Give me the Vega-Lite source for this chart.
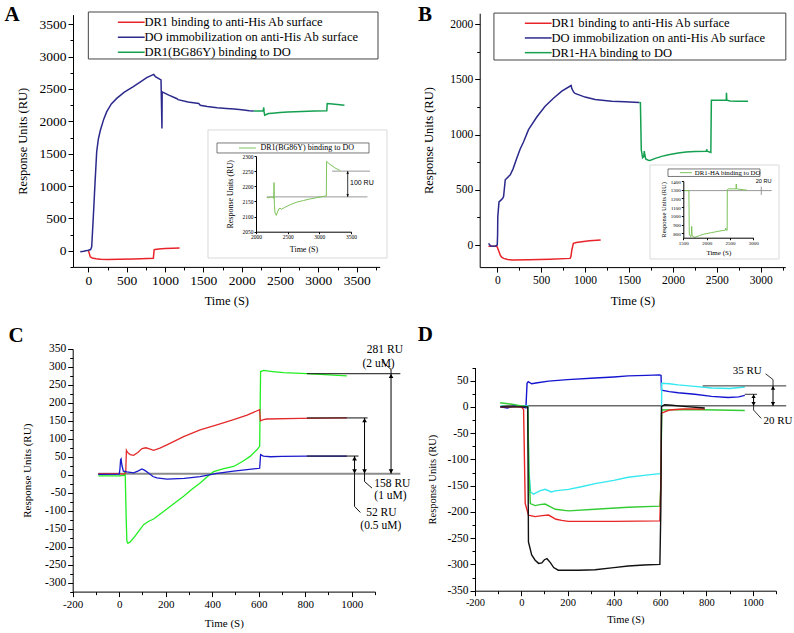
{
"$schema":"https://vega.github.io/schema/vega-lite/v6.json",
"width":794,"height":633,
"autosize":{"type":"fit","contains":"padding"},
"padding":0,
"background":"white",
"config":{
 "view":{"stroke":null},
 "axis":{"grid":false,"labelFont":"Liberation Serif","titleFont":"Liberation Serif","domainColor":"#000","tickColor":"#000","labelColor":"#000","titleColor":"#000","titleFontWeight":"normal","labelFlush":false,"labelOverlap":false,"domainWidth":1,"tickWidth":1},
 "legend":{"labelFont":"Liberation Serif","labelColor":"#000"},
 "text":{"font":"Liberation Serif","color":"#000"}
},
"datasets":{
 "A":[
  {"series":"DR1 binding to anti-His Ab surface","t":0,"v":5},{"series":"DR1 binding to anti-His Ab surface","t":10,"v":-30},{"series":"DR1 binding to anti-His Ab surface","t":25,"v":-95},{"series":"DR1 binding to anti-His Ab surface","t":50,"v":-112},{"series":"DR1 binding to anti-His Ab surface","t":100,"v":-123},{"series":"DR1 binding to anti-His Ab surface","t":160,"v":-130},{"series":"DR1 binding to anti-His Ab surface","t":250,"v":-134},{"series":"DR1 binding to anti-His Ab surface","t":400,"v":-131},{"series":"DR1 binding to anti-His Ab surface","t":600,"v":-126},{"series":"DR1 binding to anti-His Ab surface","t":848,"v":-115},{"series":"DR1 binding to anti-His Ab surface","t":858,"v":10},{"series":"DR1 binding to anti-His Ab surface","t":870,"v":18},{"series":"DR1 binding to anti-His Ab surface","t":920,"v":27},{"series":"DR1 binding to anti-His Ab surface","t":1000,"v":34},{"series":"DR1 binding to anti-His Ab surface","t":1100,"v":40},{"series":"DR1 binding to anti-His Ab surface","t":1190,"v":44},
  {"series":"DO immobilization on anti-His Ab surface","t":-105,"v":-15},{"series":"DO immobilization on anti-His Ab surface","t":-60,"v":-8},{"series":"DO immobilization on anti-His Ab surface","t":-20,"v":2},{"series":"DO immobilization on anti-His Ab surface","t":0,"v":8},{"series":"DO immobilization on anti-His Ab surface","t":30,"v":18},{"series":"DO immobilization on anti-His Ab surface","t":44,"v":62},{"series":"DO immobilization on anti-His Ab surface","t":65,"v":526},{"series":"DO immobilization on anti-His Ab surface","t":87,"v":1042},{"series":"DO immobilization on anti-His Ab surface","t":109,"v":1530},{"series":"DO immobilization on anti-His Ab surface","t":130,"v":1720},{"series":"DO immobilization on anti-His Ab surface","t":157,"v":1862},{"series":"DO immobilization on anti-His Ab surface","t":200,"v":2030},{"series":"DO immobilization on anti-His Ab surface","t":240,"v":2149},{"series":"DO immobilization on anti-His Ab surface","t":300,"v":2270},{"series":"DO immobilization on anti-His Ab surface","t":370,"v":2355},{"series":"DO immobilization on anti-His Ab surface","t":470,"v":2450},{"series":"DO immobilization on anti-His Ab surface","t":587,"v":2535},{"series":"DO immobilization on anti-His Ab surface","t":680,"v":2610},{"series":"DO immobilization on anti-His Ab surface","t":761,"v":2675},{"series":"DO immobilization on anti-His Ab surface","t":853,"v":2725},{"series":"DO immobilization on anti-His Ab surface","t":875,"v":2690},{"series":"DO immobilization on anti-His Ab surface","t":948,"v":2640},{"series":"DO immobilization on anti-His Ab surface","t":960,"v":1890},{"series":"DO immobilization on anti-His Ab surface","t":963,"v":2455},{"series":"DO immobilization on anti-His Ab surface","t":1050,"v":2405},{"series":"DO immobilization on anti-His Ab surface","t":1157,"v":2350},{"series":"DO immobilization on anti-His Ab surface","t":1170,"v":2335},{"series":"DO immobilization on anti-His Ab surface","t":1300,"v":2300},{"series":"DO immobilization on anti-His Ab surface","t":1440,"v":2275},{"series":"DO immobilization on anti-His Ab surface","t":1460,"v":2248},{"series":"DO immobilization on anti-His Ab surface","t":1550,"v":2228},{"series":"DO immobilization on anti-His Ab surface","t":1680,"v":2211},{"series":"DO immobilization on anti-His Ab surface","t":1800,"v":2200},{"series":"DO immobilization on anti-His Ab surface","t":1900,"v":2192},{"series":"DO immobilization on anti-His Ab surface","t":2000,"v":2180},{"series":"DO immobilization on anti-His Ab surface","t":2100,"v":2165},{"series":"DO immobilization on anti-His Ab surface","t":2158,"v":2158},
  {"series":"DR1(BG86Y) binding to DO","t":2158,"v":2158},{"series":"DR1(BG86Y) binding to DO","t":2280,"v":2160},{"series":"DR1(BG86Y) binding to DO","t":2288,"v":2215},{"series":"DR1(BG86Y) binding to DO","t":2292,"v":2150},{"series":"DR1(BG86Y) binding to DO","t":2300,"v":2095},{"series":"DR1(BG86Y) binding to DO","t":2320,"v":2105},{"series":"DR1(BG86Y) binding to DO","t":2350,"v":2120},{"series":"DR1(BG86Y) binding to DO","t":2400,"v":2125},{"series":"DR1(BG86Y) binding to DO","t":2500,"v":2137},{"series":"DR1(BG86Y) binding to DO","t":2600,"v":2145},{"series":"DR1(BG86Y) binding to DO","t":2784,"v":2154},{"series":"DR1(BG86Y) binding to DO","t":2950,"v":2160},{"series":"DR1(BG86Y) binding to DO","t":3110,"v":2165},{"series":"DR1(BG86Y) binding to DO","t":3115,"v":2275},{"series":"DR1(BG86Y) binding to DO","t":3150,"v":2272},{"series":"DR1(BG86Y) binding to DO","t":3250,"v":2260},{"series":"DR1(BG86Y) binding to DO","t":3340,"v":2248}
 ],
 "Ai":[
  {"series":"DR1(BG86Y) binding to DO","t":2170,"v":2163},{"series":"DR1(BG86Y) binding to DO","t":2200,"v":2162},{"series":"DR1(BG86Y) binding to DO","t":2240,"v":2165},{"series":"DR1(BG86Y) binding to DO","t":2270,"v":2163},{"series":"DR1(BG86Y) binding to DO","t":2280,"v":2160},{"series":"DR1(BG86Y) binding to DO","t":2285,"v":2212},{"series":"DR1(BG86Y) binding to DO","t":2290,"v":2140},{"series":"DR1(BG86Y) binding to DO","t":2300,"v":2112},{"series":"DR1(BG86Y) binding to DO","t":2320,"v":2104},{"series":"DR1(BG86Y) binding to DO","t":2340,"v":2115},{"series":"DR1(BG86Y) binding to DO","t":2360,"v":2125},{"series":"DR1(BG86Y) binding to DO","t":2380,"v":2128},{"series":"DR1(BG86Y) binding to DO","t":2400,"v":2124},{"series":"DR1(BG86Y) binding to DO","t":2450,"v":2130},{"series":"DR1(BG86Y) binding to DO","t":2550,"v":2140},{"series":"DR1(BG86Y) binding to DO","t":2650,"v":2148},{"series":"DR1(BG86Y) binding to DO","t":2750,"v":2153},{"series":"DR1(BG86Y) binding to DO","t":2850,"v":2158},{"series":"DR1(BG86Y) binding to DO","t":2950,"v":2162},{"series":"DR1(BG86Y) binding to DO","t":3050,"v":2166},{"series":"DR1(BG86Y) binding to DO","t":3110,"v":2168},{"series":"DR1(BG86Y) binding to DO","t":3115,"v":2282},{"series":"DR1(BG86Y) binding to DO","t":3150,"v":2275},{"series":"DR1(BG86Y) binding to DO","t":3200,"v":2268},{"series":"DR1(BG86Y) binding to DO","t":3250,"v":2260},{"series":"DR1(BG86Y) binding to DO","t":3300,"v":2255},{"series":"DR1(BG86Y) binding to DO","t":3330,"v":2252}
 ],
 "AiSeg":[{"x1":2170,"y1":2165,"x2":3760,"y2":2165},{"x1":3200,"y1":2250,"x2":3800,"y2":2250}],
 "AiArr":[{"t":3448,"lo":2165,"hi":2250}],
 "B":[
  {"series":"DR1 binding to anti-His Ab surface","t":-100,"v":-10},{"series":"DR1 binding to anti-His Ab surface","t":-10,"v":-12},{"series":"DR1 binding to anti-His Ab surface","t":0,"v":-18},{"series":"DR1 binding to anti-His Ab surface","t":20,"v":-60},{"series":"DR1 binding to anti-His Ab surface","t":34,"v":-91},{"series":"DR1 binding to anti-His Ab surface","t":50,"v":-110},{"series":"DR1 binding to anti-His Ab surface","t":72,"v":-121},{"series":"DR1 binding to anti-His Ab surface","t":120,"v":-132},{"series":"DR1 binding to anti-His Ab surface","t":167,"v":-136},{"series":"DR1 binding to anti-His Ab surface","t":356,"v":-134},{"series":"DR1 binding to anti-His Ab surface","t":600,"v":-128},{"series":"DR1 binding to anti-His Ab surface","t":830,"v":-121},{"series":"DR1 binding to anti-His Ab surface","t":840,"v":-100},{"series":"DR1 binding to anti-His Ab surface","t":849,"v":-45},{"series":"DR1 binding to anti-His Ab surface","t":867,"v":15},{"series":"DR1 binding to anti-His Ab surface","t":900,"v":22},{"series":"DR1 binding to anti-His Ab surface","t":962,"v":30},{"series":"DR1 binding to anti-His Ab surface","t":1050,"v":38},{"series":"DR1 binding to anti-His Ab surface","t":1178,"v":45},
  {"series":"DO immobilization on anti-His Ab surface","t":-99,"v":15},{"series":"DO immobilization on anti-His Ab surface","t":-80,"v":-5},{"series":"DO immobilization on anti-His Ab surface","t":-61,"v":-12},{"series":"DO immobilization on anti-His Ab surface","t":-20,"v":-8},{"series":"DO immobilization on anti-His Ab surface","t":0,"v":0},{"series":"DO immobilization on anti-His Ab surface","t":4,"v":100},{"series":"DO immobilization on anti-His Ab surface","t":6,"v":257},{"series":"DO immobilization on anti-His Ab surface","t":20,"v":390},{"series":"DO immobilization on anti-His Ab surface","t":45,"v":409},{"series":"DO immobilization on anti-His Ab surface","t":60,"v":420},{"series":"DO immobilization on anti-His Ab surface","t":72,"v":440},{"series":"DO immobilization on anti-His Ab surface","t":91,"v":591},{"series":"DO immobilization on anti-His Ab surface","t":148,"v":636},{"series":"DO immobilization on anti-His Ab surface","t":180,"v":690},{"series":"DO immobilization on anti-His Ab surface","t":224,"v":790},{"series":"DO immobilization on anti-His Ab surface","t":261,"v":870},{"series":"DO immobilization on anti-His Ab surface","t":300,"v":935},{"series":"DO immobilization on anti-His Ab surface","t":356,"v":1045},{"series":"DO immobilization on anti-His Ab surface","t":450,"v":1160},{"series":"DO immobilization on anti-His Ab surface","t":545,"v":1257},{"series":"DO immobilization on anti-His Ab surface","t":640,"v":1330},{"series":"DO immobilization on anti-His Ab surface","t":735,"v":1394},{"series":"DO immobilization on anti-His Ab surface","t":841,"v":1445},{"series":"DO immobilization on anti-His Ab surface","t":850,"v":1415},{"series":"DO immobilization on anti-His Ab surface","t":870,"v":1385},{"series":"DO immobilization on anti-His Ab surface","t":886,"v":1373},{"series":"DO immobilization on anti-His Ab surface","t":1000,"v":1340},{"series":"DO immobilization on anti-His Ab surface","t":1114,"v":1318},{"series":"DO immobilization on anti-His Ab surface","t":1303,"v":1303},{"series":"DO immobilization on anti-His Ab surface","t":1450,"v":1298},{"series":"DO immobilization on anti-His Ab surface","t":1617,"v":1292},
  {"series":"DR1-HA binding to DO","t":1617,"v":1292},{"series":"DR1-HA binding to DO","t":1630,"v":1290},{"series":"DR1-HA binding to DO","t":1640,"v":864},{"series":"DR1-HA binding to DO","t":1655,"v":790},{"series":"DR1-HA binding to DO","t":1668,"v":800},{"series":"DR1-HA binding to DO","t":1674,"v":850},{"series":"DR1-HA binding to DO","t":1680,"v":820},{"series":"DR1-HA binding to DO","t":1690,"v":780},{"series":"DR1-HA binding to DO","t":1720,"v":768},{"series":"DR1-HA binding to DO","t":1739,"v":766},{"series":"DR1-HA binding to DO","t":1800,"v":785},{"series":"DR1-HA binding to DO","t":1871,"v":803},{"series":"DR1-HA binding to DO","t":1950,"v":818},{"series":"DR1-HA binding to DO","t":2060,"v":833},{"series":"DR1-HA binding to DO","t":2150,"v":842},{"series":"DR1-HA binding to DO","t":2250,"v":848},{"series":"DR1-HA binding to DO","t":2383,"v":850},{"series":"DR1-HA binding to DO","t":2385,"v":868},{"series":"DR1-HA binding to DO","t":2390,"v":850},{"series":"DR1-HA binding to DO","t":2432,"v":838},{"series":"DR1-HA binding to DO","t":2438,"v":1312},{"series":"DR1-HA binding to DO","t":2500,"v":1312},{"series":"DR1-HA binding to DO","t":2608,"v":1312},{"series":"DR1-HA binding to DO","t":2610,"v":1380},{"series":"DR1-HA binding to DO","t":2614,"v":1312},{"series":"DR1-HA binding to DO","t":2650,"v":1305},{"series":"DR1-HA binding to DO","t":2750,"v":1303},{"series":"DR1-HA binding to DO","t":2856,"v":1302}
 ],
 "Bi":[
  {"series":"DR1-HA binding to DO","t":1520,"v":1290},{"series":"DR1-HA binding to DO","t":1620,"v":1290},{"series":"DR1-HA binding to DO","t":1628,"v":790},{"series":"DR1-HA binding to DO","t":1660,"v":760},{"series":"DR1-HA binding to DO","t":1675,"v":800},{"series":"DR1-HA binding to DO","t":1680,"v":880},{"series":"DR1-HA binding to DO","t":1688,"v":780},{"series":"DR1-HA binding to DO","t":1700,"v":765},{"series":"DR1-HA binding to DO","t":1751,"v":755},{"series":"DR1-HA binding to DO","t":1850,"v":775},{"series":"DR1-HA binding to DO","t":1929,"v":789},{"series":"DR1-HA binding to DO","t":2100,"v":808},{"series":"DR1-HA binding to DO","t":2286,"v":827},{"series":"DR1-HA binding to DO","t":2400,"v":836},{"series":"DR1-HA binding to DO","t":2410,"v":860},{"series":"DR1-HA binding to DO","t":2415,"v":838},{"series":"DR1-HA binding to DO","t":2440,"v":836},{"series":"DR1-HA binding to DO","t":2443,"v":1300},{"series":"DR1-HA binding to DO","t":2460,"v":1310},{"series":"DR1-HA binding to DO","t":2630,"v":1310},{"series":"DR1-HA binding to DO","t":2635,"v":1365},{"series":"DR1-HA binding to DO","t":2640,"v":1310},{"series":"DR1-HA binding to DO","t":2715,"v":1305},{"series":"DR1-HA binding to DO","t":2800,"v":1298},{"series":"DR1-HA binding to DO","t":2860,"v":1296}
 ],
 "BiSeg":[{"x1":1500,"y1":1290,"x2":3394,"y2":1290},{"x1":3171,"y1":1240,"x2":3171,"y2":1335}],
 "C":[
  {"series":"2 uM","t":-90,"v":-3},{"series":"2 uM","t":0,"v":-3},{"series":"2 uM","t":20,"v":-2},{"series":"2 uM","t":24,"v":8},{"series":"2 uM","t":26,"v":-3},{"series":"2 uM","t":30,"v":-120},{"series":"2 uM","t":33,"v":-185},{"series":"2 uM","t":37,"v":-190},{"series":"2 uM","t":45,"v":-188},{"series":"2 uM","t":62,"v":-176},{"series":"2 uM","t":80,"v":-160},{"series":"2 uM","t":105,"v":-139},{"series":"2 uM","t":125,"v":-130},{"series":"2 uM","t":148,"v":-123},{"series":"2 uM","t":175,"v":-110},{"series":"2 uM","t":205,"v":-95},{"series":"2 uM","t":240,"v":-78},{"series":"2 uM","t":277,"v":-60},{"series":"2 uM","t":310,"v":-42},{"series":"2 uM","t":348,"v":-23},{"series":"2 uM","t":380,"v":-5},{"series":"2 uM","t":406,"v":9},{"series":"2 uM","t":450,"v":17},{"series":"2 uM","t":492,"v":23},{"series":"2 uM","t":530,"v":37},{"series":"2 uM","t":563,"v":51},{"series":"2 uM","t":590,"v":68},{"series":"2 uM","t":604,"v":79},{"series":"2 uM","t":608,"v":287},{"series":"2 uM","t":621,"v":290},{"series":"2 uM","t":660,"v":287},{"series":"2 uM","t":707,"v":284},{"series":"2 uM","t":807,"v":281},{"series":"2 uM","t":922,"v":277},{"series":"2 uM","t":979,"v":275},
  {"series":"1 uM","t":-90,"v":3},{"series":"1 uM","t":0,"v":3},{"series":"1 uM","t":20,"v":2},{"series":"1 uM","t":28,"v":5},{"series":"1 uM","t":31,"v":68},{"series":"1 uM","t":36,"v":62},{"series":"1 uM","t":47,"v":56},{"series":"1 uM","t":62,"v":54},{"series":"1 uM","t":80,"v":62},{"series":"1 uM","t":98,"v":73},{"series":"1 uM","t":115,"v":75},{"series":"1 uM","t":130,"v":72},{"series":"1 uM","t":148,"v":68},{"series":"1 uM","t":175,"v":74},{"series":"1 uM","t":205,"v":83},{"series":"1 uM","t":240,"v":94},{"series":"1 uM","t":277,"v":106},{"series":"1 uM","t":348,"v":125},{"series":"1 uM","t":420,"v":139},{"series":"1 uM","t":492,"v":153},{"series":"1 uM","t":550,"v":166},{"series":"1 uM","t":604,"v":181},{"series":"1 uM","t":607,"v":150},{"series":"1 uM","t":620,"v":153},{"series":"1 uM","t":635,"v":155},{"series":"1 uM","t":779,"v":157},{"series":"1 uM","t":979,"v":158},
  {"series":"0.5 uM","t":-90,"v":1},{"series":"0.5 uM","t":0,"v":2},{"series":"0.5 uM","t":3,"v":15},{"series":"0.5 uM","t":6,"v":42},{"series":"0.5 uM","t":8,"v":44},{"series":"0.5 uM","t":12,"v":25},{"series":"0.5 uM","t":18,"v":10},{"series":"0.5 uM","t":33,"v":8},{"series":"0.5 uM","t":62,"v":5},{"series":"0.5 uM","t":80,"v":10},{"series":"0.5 uM","t":98,"v":16},{"series":"0.5 uM","t":110,"v":12},{"series":"0.5 uM","t":126,"v":5},{"series":"0.5 uM","t":145,"v":-5},{"series":"0.5 uM","t":162,"v":-9},{"series":"0.5 uM","t":205,"v":-12},{"series":"0.5 uM","t":280,"v":-10},{"series":"0.5 uM","t":348,"v":-5},{"series":"0.5 uM","t":420,"v":4},{"series":"0.5 uM","t":492,"v":10},{"series":"0.5 uM","t":550,"v":14},{"series":"0.5 uM","t":604,"v":18},{"series":"0.5 uM","t":608,"v":56},{"series":"0.5 uM","t":620,"v":52},{"series":"0.5 uM","t":650,"v":50},{"series":"0.5 uM","t":700,"v":51},{"series":"0.5 uM","t":807,"v":52},{"series":"0.5 uM","t":979,"v":52}
 ],
 "CSeg":[
  {"x1":807,"y1":281,"x2":1209,"y2":281},{"x1":807,"y1":158,"x2":1068,"y2":158},{"x1":807,"y1":52,"x2":1029,"y2":52},
  {"x1":1012,"y1":3,"x2":1012,"y2":-88},{"x1":1012,"y1":-88,"x2":1037,"y2":-105},
  {"x1":1055,"y1":3,"x2":1055,"y2":-19},{"x1":1055,"y1":-19,"x2":1087,"y2":-37},
  {"x1":1169,"y1":281,"x2":1169,"y2":293},{"x1":1169,"y1":293,"x2":1130,"y2":315}
 ],
 "CArr":[{"t":1012,"lo":3,"hi":52},{"t":1055,"lo":3,"hi":158},{"t":1169,"lo":3,"hi":281}],
 "CTxt":[
  {"t":1065,"v":346,"label":"281 RU"},{"t":1046,"v":307,"label":"(2 uM)"},
  {"t":1097,"v":-25,"label":"158 RU"},{"t":1097,"v":-58,"label":"(1 uM)"},
  {"t":1062,"v":-106,"label":"52 RU"},{"t":1037,"v":-142,"label":"(0.5 uM)"}
 ],
 "D":[
  {"series":"blue","t":-91,"v":0},{"series":"blue","t":-60,"v":-2},{"series":"blue","t":-30,"v":2},{"series":"blue","t":0,"v":0},{"series":"blue","t":20,"v":-2},{"series":"blue","t":25,"v":45},{"series":"blue","t":30,"v":48},{"series":"blue","t":45,"v":44},{"series":"blue","t":70,"v":46},{"series":"blue","t":118,"v":49},{"series":"blue","t":200,"v":52},{"series":"blue","t":319,"v":55},{"series":"blue","t":400,"v":57},{"series":"blue","t":462,"v":59},{"series":"blue","t":540,"v":60},{"series":"blue","t":599,"v":61},{"series":"blue","t":604,"v":60},{"series":"blue","t":606,"v":32},{"series":"blue","t":640,"v":29},{"series":"blue","t":678,"v":27},{"series":"blue","t":750,"v":24},{"series":"blue","t":822,"v":20},{"series":"blue","t":894,"v":18},{"series":"blue","t":940,"v":19},{"series":"blue","t":966,"v":22},
  {"series":"cyan","t":-91,"v":2},{"series":"cyan","t":-50,"v":0},{"series":"cyan","t":0,"v":1},{"series":"cyan","t":28,"v":2},{"series":"cyan","t":33,"v":-120},{"series":"cyan","t":40,"v":-162},{"series":"cyan","t":53,"v":-166},{"series":"cyan","t":80,"v":-160},{"series":"cyan","t":103,"v":-157},{"series":"cyan","t":130,"v":-162},{"series":"cyan","t":146,"v":-160},{"series":"cyan","t":204,"v":-157},{"series":"cyan","t":260,"v":-152},{"series":"cyan","t":319,"v":-146},{"series":"cyan","t":400,"v":-140},{"series":"cyan","t":462,"v":-134},{"series":"cyan","t":540,"v":-130},{"series":"cyan","t":599,"v":-127},{"series":"cyan","t":604,"v":-125},{"series":"cyan","t":607,"v":45},{"series":"cyan","t":640,"v":44},{"series":"cyan","t":678,"v":42},{"series":"cyan","t":750,"v":39},{"series":"cyan","t":822,"v":36},{"series":"cyan","t":900,"v":35},{"series":"cyan","t":966,"v":38},
  {"series":"green","t":-91,"v":8},{"series":"green","t":-40,"v":5},{"series":"green","t":0,"v":2},{"series":"green","t":28,"v":0},{"series":"green","t":33,"v":-120},{"series":"green","t":39,"v":-184},{"series":"green","t":60,"v":-188},{"series":"green","t":80,"v":-186},{"series":"green","t":103,"v":-185},{"series":"green","t":147,"v":-195},{"series":"green","t":204,"v":-198},{"series":"green","t":319,"v":-195},{"series":"green","t":462,"v":-191},{"series":"green","t":599,"v":-189},{"series":"green","t":603,"v":-150},{"series":"green","t":607,"v":-6},{"series":"green","t":700,"v":-5},{"series":"green","t":850,"v":-6},{"series":"green","t":966,"v":-7},
  {"series":"red","t":-91,"v":0},{"series":"red","t":0,"v":0},{"series":"red","t":10,"v":-5},{"series":"red","t":17,"v":-184},{"series":"red","t":31,"v":-206},{"series":"red","t":60,"v":-209},{"series":"red","t":90,"v":-207},{"series":"red","t":118,"v":-206},{"series":"red","t":150,"v":-214},{"series":"red","t":175,"v":-216},{"series":"red","t":204,"v":-218},{"series":"red","t":400,"v":-218},{"series":"red","t":599,"v":-217},{"series":"red","t":603,"v":-150},{"series":"red","t":606,"v":-12},{"series":"red","t":640,"v":-6},{"series":"red","t":700,"v":-4},{"series":"red","t":793,"v":-4},
  {"series":"black","t":-91,"v":0},{"series":"black","t":0,"v":0},{"series":"black","t":28,"v":0},{"series":"black","t":31,"v":-257},{"series":"black","t":45,"v":-282},{"series":"black","t":60,"v":-292},{"series":"black","t":75,"v":-298},{"series":"black","t":89,"v":-297},{"series":"black","t":100,"v":-291},{"series":"black","t":111,"v":-289},{"series":"black","t":125,"v":-296},{"series":"black","t":140,"v":-306},{"series":"black","t":160,"v":-311},{"series":"black","t":250,"v":-311},{"series":"black","t":319,"v":-310},{"series":"black","t":400,"v":-306},{"series":"black","t":462,"v":-303},{"series":"black","t":530,"v":-301},{"series":"black","t":599,"v":-300},{"series":"black","t":603,"v":-200},{"series":"black","t":606,"v":1},{"series":"black","t":620,"v":4},{"series":"black","t":650,"v":3},{"series":"black","t":700,"v":1},{"series":"black","t":793,"v":-2}
 ],
 "DSeg":[
  {"x1":784,"y1":40,"x2":1145,"y2":40},{"x1":966,"y1":24,"x2":1019,"y2":24},
  {"x1":1088,"y1":40,"x2":1088,"y2":52},{"x1":1088,"y1":52,"x2":1056,"y2":63},
  {"x1":1004,"y1":2,"x2":1004,"y2":-6},{"x1":1004,"y1":-6,"x2":1037,"y2":-22}
 ],
 "DArr":[{"t":1004,"lo":2,"hi":24},{"t":1088,"lo":2,"hi":40}],
 "DTxt":[{"t":914,"v":69,"label":"35 RU"},{"t":1047,"v":-27,"label":"20 RU"}]
},
"layer":[
 {
  "layer":[
   {"data":{"name":"A"},"mark":{"type":"line","strokeWidth":1.5,"clip":false},
    "encoding":{
     "x":{"field":"t","type":"quantitative","scale":{"domain":[-200,3800],"range":[73,379.7],"nice":false,"zero":false},
          "axis":{"orient":"bottom","offset":-366.1,"zindex":1,"values":[0,500,1000,1500,2000,2500,3000,3500],"labelExpr":"''+datum.value","title":"Time (S)","labelFont":"Liberation Serif","titleFont":"Liberation Serif","titleFontWeight":"normal","labelColor":"#000","titleColor":"#000","domainColor":"#000","tickColor":"#000","grid":false,"labelFontSize":13.5,"titleFontSize":12.5,"titlePadding":7}},
     "y":{"field":"v","type":"quantitative","scale":{"domain":[-250,3650],"range":[266.9,14.6],"nice":false,"zero":false},
          "axis":{"orient":"left","offset":-73,"zindex":1,"values":[0,500,1000,1500,2000,2500,3000,3500],"labelExpr":"''+datum.value","title":"Response Units (RU)","labelFont":"Liberation Serif","titleFont":"Liberation Serif","titleFontWeight":"normal","labelColor":"#000","titleColor":"#000","domainColor":"#000","tickColor":"#000","grid":false,"labelFontSize":13.5,"titleFontSize":12.5,"titlePadding":10}},
     "color":{"field":"series","type":"nominal","scale":{"domain":["DR1 binding to anti-His Ab surface","DO immobilization on anti-His Ab surface","DR1(BG86Y) binding to DO"],"range":["#e8242a","#2b2a8c","#15a050"]},
          "legend":{"orient":"none","legendX":125,"legendY":16,"title":null,"labelFont":"Liberation Serif","labelColor":"#000","labelFontSize":12.5,"labelLimit":400,"symbolType":"M-4,0H4","symbolSize":45,"symbolStrokeWidth":1.5,"labelOffset":7,"rowPadding":2,"padding":0}}
    }},
   {"data":{"values":[{}]},"mark":{"type":"rect","fillOpacity":0,"stroke":"#444","strokeWidth":1},
    "encoding":{
     "x":{"datum":0,"type":"quantitative","axis":{"orient":"bottom","offset":-366.1,"zindex":1,"values":[250,750,1250,1750,2250,2750,3250,3750],"labels":false,"domain":false,"grid":false,"tickColor":"#000","title":null,"tickSize":3}},
     "x2":{"datum":3778},
     "y":{"datum":2964,"type":"quantitative","axis":{"orient":"left","offset":-73,"zindex":1,"values":[-250,250,750,1250,1750,2250,2750,3250],"labels":false,"domain":false,"grid":false,"tickColor":"#000","title":null,"tickSize":3}},
     "y2":{"datum":3690}
    }},
   {"data":{"values":[{}]},"mark":{"type":"text","font":"Liberation Serif","fontSize":21,"fontWeight":"bold","align":"center","baseline":"middle"},
    "encoding":{"x":{"datum":-995,"type":"quantitative","axis":null},"y":{"datum":3644,"type":"quantitative","axis":null},"text":{"value":"A"}}}
  ],
  "resolve":{"axis":{"x":"independent","y":"independent"}}
 },
 {
  "layer":[
   {"data":{"values":[{}]},"mark":{"type":"rect","fill":"white","stroke":"#d9d9d9","strokeWidth":1},
    "encoding":{"x":{"datum":1242,"type":"quantitative","axis":null},"x2":{"datum":4068},"y":{"datum":1963,"type":"quantitative","axis":null},"y2":{"datum":2386}}},
   {"data":{"name":"AiSeg"},"mark":{"type":"rule","color":"#999","strokeWidth":1},
    "encoding":{"x":{"field":"x1","type":"quantitative","axis":null},"x2":{"field":"x2"},"y":{"field":"y1","type":"quantitative","axis":null},"y2":{"field":"y2"}}},
   {"data":{"name":"Ai"},"mark":{"type":"line","strokeWidth":1,"clip":false},
    "encoding":{
     "x":{"field":"t","type":"quantitative","scale":{"domain":[2000,3500],"range":[256,351],"nice":false,"zero":false},
          "axis":{"orient":"bottom","offset":-401.3,"zindex":2,"values":[2000,2500,3000,3500],"labelExpr":"''+datum.value","title":"Time (S)","labelFont":"Liberation Serif","titleFont":"Liberation Serif","titleFontWeight":"normal","labelColor":"#000","titleColor":"#000","domainColor":"#000","tickColor":"#000","grid":false,"labelFontSize":5.5,"titleFontSize":8,"tickSize":2,"labelPadding":1,"titlePadding":5}},
     "y":{"field":"v","type":"quantitative","scale":{"domain":[2050,2300],"range":[231.7,156],"nice":false,"zero":false},
          "axis":{"orient":"left","offset":-256,"zindex":2,"values":[2050,2100,2150,2200,2250,2300],"labelExpr":"''+datum.value","title":"Response Units (RU)","labelFont":"Liberation Serif","titleFont":"Liberation Serif","titleFontWeight":"normal","labelColor":"#000","titleColor":"#000","domainColor":"#000","tickColor":"#000","grid":false,"labelFontSize":5.5,"titleFontSize":8,"tickSize":2,"labelPadding":1,"titlePadding":8}},
     "color":{"field":"series","type":"nominal","scale":{"domain":["DR1(BG86Y) binding to DO"],"range":["#7cc35a"]},
          "legend":{"orient":"none","legendX":243.4,"legendY":144,"title":null,"labelFont":"Liberation Serif","labelColor":"#000","labelFontSize":8,"labelLimit":300,"symbolType":"M-4,0H4","symbolSize":18,"symbolStrokeWidth":1,"labelOffset":9,"padding":0}}
    }},
   {"data":{"values":[{}]},"mark":{"type":"rect","fillOpacity":0,"stroke":"#555","strokeWidth":0.8},
    "encoding":{"x":{"datum":1384,"type":"quantitative","axis":null},"x2":{"datum":3784},"y":{"datum":2310,"type":"quantitative","axis":null},"y2":{"datum":2343}}},
   {"data":{"name":"AiArr"},"mark":{"type":"rule","color":"#000","strokeWidth":0.8},
    "encoding":{"x":{"field":"t","type":"quantitative","axis":null},"y":{"field":"lo","type":"quantitative","axis":null},"y2":{"field":"hi"}}},
   {"data":{"name":"AiArr"},"mark":{"type":"point","shape":"triangle-up","filled":true,"size":8,"color":"#000","opacity":1,"yOffset":1.5},
    "encoding":{"x":{"field":"t","type":"quantitative","axis":null},"y":{"field":"hi","type":"quantitative","axis":null}}},
   {"data":{"name":"AiArr"},"mark":{"type":"point","shape":"triangle-down","filled":true,"size":8,"color":"#000","opacity":1,"yOffset":-1.5},
    "encoding":{"x":{"field":"t","type":"quantitative","axis":null},"y":{"field":"lo","type":"quantitative","axis":null}}},
   {"data":{"values":[{}]},"mark":{"type":"text","font":"Liberation Sans","fontSize":7,"align":"left","baseline":"middle"},
    "encoding":{"x":{"datum":3484,"type":"quantitative","axis":null},"y":{"datum":2211,"type":"quantitative","axis":null},"text":{"value":"100 RU"}}}
  ],
  "resolve":{"axis":{"x":"independent","y":"independent"}}
 },
 {
  "layer":[
   {"data":{"name":"B"},"mark":{"type":"line","strokeWidth":1.5,"clip":false},
    "encoding":{
     "x":{"field":"t","type":"quantitative","scale":{"domain":[-200,3280],"range":[479.7,785.3],"nice":false,"zero":false},
          "axis":{"orient":"bottom","offset":-365.9,"zindex":1,"values":[0,500,1000,1500,2000,2500,3000],"labelExpr":"''+datum.value","title":"Time (S)","labelFont":"Liberation Serif","titleFont":"Liberation Serif","titleFontWeight":"normal","labelColor":"#000","titleColor":"#000","domainColor":"#000","tickColor":"#000","grid":false,"labelFontSize":11.5,"titleFontSize":12.5,"titlePadding":9}},
     "y":{"field":"v","type":"quantitative","scale":{"domain":[-200,2100],"range":[267.1,13.2],"nice":false,"zero":false},
          "axis":{"orient":"left","offset":-479.7,"zindex":1,"values":[0,500,1000,1500,2000],"labelExpr":"''+datum.value","title":"Response Units (RU)","labelFont":"Liberation Serif","titleFont":"Liberation Serif","titleFontWeight":"normal","labelColor":"#000","titleColor":"#000","domainColor":"#000","tickColor":"#000","grid":false,"labelFontSize":11.5,"titleFontSize":12.5,"titlePadding":14}},
     "color":{"field":"series","type":"nominal","scale":{"domain":["DR1 binding to anti-His Ab surface","DO immobilization on anti-His Ab surface","DR1-HA binding to DO"],"range":["#e8242a","#2b2a8c","#15a050"]},
          "legend":{"orient":"none","legendX":532,"legendY":17,"title":null,"labelFont":"Liberation Serif","labelColor":"#000","labelFontSize":12.5,"labelLimit":400,"symbolType":"M-4,0H4","symbolSize":45,"symbolStrokeWidth":1.5,"labelOffset":7,"rowPadding":1.7,"padding":0}}
    }},
   {"data":{"values":[{}]},"mark":{"type":"rect","fillOpacity":0,"stroke":"#444","strokeWidth":1},
    "encoding":{
     "x":{"datum":-38,"type":"quantitative","axis":{"orient":"bottom","offset":-365.9,"zindex":1,"values":[250,750,1250,1750,2250,2750,3250],"labels":false,"domain":false,"grid":false,"tickColor":"#000","title":null,"tickSize":3}},
     "x2":{"datum":3286},
     "y":{"datum":1676,"type":"quantitative","axis":{"orient":"left","offset":-479.7,"zindex":1,"values":[250,750,1250,1750],"labels":false,"domain":false,"grid":false,"tickColor":"#000","title":null,"tickSize":3}},
     "y2":{"datum":2101}
    }},
   {"data":{"values":[{}]},"mark":{"type":"text","font":"Liberation Serif","fontSize":21,"fontWeight":"bold","align":"center","baseline":"middle"},
    "encoding":{"x":{"datum":-823,"type":"quantitative","axis":null},"y":{"datum":2083,"type":"quantitative","axis":null},"text":{"value":"B"}}}
  ],
  "resolve":{"axis":{"x":"independent","y":"independent"}}
 },
 {
  "layer":[
   {"data":{"values":[{}]},"mark":{"type":"rect","fill":"white","stroke":"#d9d9d9","strokeWidth":1},
    "encoding":{"x":{"datum":786,"type":"quantitative","axis":null},"x2":{"datum":3551},"y":{"datum":506,"type":"quantitative","axis":null},"y2":{"datum":1583}}},
   {"data":{"name":"BiSeg"},"mark":{"type":"rule","color":"#999","strokeWidth":1},
    "encoding":{"x":{"field":"x1","type":"quantitative","axis":null},"x2":{"field":"x2"},"y":{"field":"y1","type":"quantitative","axis":null},"y2":{"field":"y2"}}},
   {"data":{"name":"Bi"},"mark":{"type":"line","strokeWidth":1,"clip":false},
    "encoding":{
     "x":{"field":"t","type":"quantitative","scale":{"domain":[1500,3000],"range":[683.3,753.3],"nice":false,"zero":false},
          "axis":{"orient":"bottom","offset":-395.3,"zindex":2,"values":[1500,2000,2500,3000],"labelExpr":"''+datum.value","title":"Time (S)","labelFont":"Liberation Serif","titleFont":"Liberation Serif","titleFontWeight":"normal","labelColor":"#000","titleColor":"#000","domainColor":"#000","tickColor":"#000","grid":false,"labelFontSize":5,"titleFontSize":7,"tickSize":2,"labelPadding":1,"titlePadding":2.5}},
     "y":{"field":"v","type":"quantitative","scale":{"domain":[750,1400],"range":[237.7,181],"nice":false,"zero":false},
          "axis":{"orient":"left","offset":-683.3,"zindex":2,"values":[800,900,1000,1100,1200,1300,1400],"labelExpr":"''+datum.value","title":"Response Units (RU)","labelFont":"Liberation Serif","titleFont":"Liberation Serif","titleFontWeight":"normal","labelColor":"#000","titleColor":"#000","domainColor":"#000","tickColor":"#000","grid":false,"labelFontSize":5,"titleFontSize":6.5,"tickSize":2,"labelPadding":1,"titlePadding":4}},
     "color":{"field":"series","type":"nominal","scale":{"domain":["DR1-HA binding to DO"],"range":["#7cc35a"]},
          "legend":{"orient":"none","legendX":682.5,"legendY":169.3,"title":null,"labelFont":"Liberation Serif","labelColor":"#000","labelFontSize":6.8,"labelLimit":300,"symbolType":"M-4,0H4","symbolSize":9,"symbolStrokeWidth":1,"labelOffset":5.5,"padding":0}}
    }},
   {"data":{"values":[{}]},"mark":{"type":"rect","fillOpacity":0,"stroke":"#555","strokeWidth":0.8},
    "encoding":{"x":{"datum":1172,"type":"quantitative","axis":null},"x2":{"datum":3143},"y":{"datum":1452,"type":"quantitative","axis":null},"y2":{"datum":1538}}},
   {"data":{"values":[{}]},"mark":{"type":"text","font":"Liberation Sans","fontSize":5.6,"align":"left","baseline":"middle"},
    "encoding":{"x":{"datum":3051,"type":"quantitative","axis":null},"y":{"datum":1403,"type":"quantitative","axis":null},"text":{"value":"20 RU"}}}
  ],
  "resolve":{"axis":{"x":"independent","y":"independent"}}
 },
 {
  "layer":[
   {"data":{"values":[{}]},"mark":{"type":"rule","color":"#8c8c8c","strokeWidth":2},
    "encoding":{
     "x":{"datum":-90,"type":"quantitative","axis":{"orient":"bottom","offset":-41.4,"zindex":1,"values":[-100,100,300,500,700,900,1100],"labels":false,"domain":false,"grid":false,"tickColor":"#000","title":null,"tickSize":3}},
     "x2":{"datum":1209},
     "y":{"datum":3,"type":"quantitative","axis":{"orient":"left","offset":-72.7,"zindex":1,"values":[-325,-275,-225,-175,-125,-75,-25,25,75,125,175,225,275,325],"labels":false,"domain":false,"grid":false,"tickColor":"#000","title":null,"tickSize":3}}
    }},
   {"data":{"name":"C"},"mark":{"type":"line","strokeWidth":1.3,"clip":false},
    "encoding":{
     "x":{"field":"t","type":"quantitative","scale":{"domain":[-200,1100],"range":[72.7,375],"nice":false,"zero":false},
          "axis":{"orient":"bottom","offset":-41.4,"zindex":1,"values":[-200,0,200,400,600,800,1000],"labelExpr":"''+datum.value","title":"Time (S)","labelFont":"Liberation Serif","titleFont":"Liberation Serif","titleFontWeight":"normal","labelColor":"#000","titleColor":"#000","domainColor":"#000","tickColor":"#000","grid":false,"labelFontSize":11,"titleFontSize":11,"titlePadding":8}},
     "y":{"field":"v","type":"quantitative","scale":{"domain":[-325,350],"range":[591.6,348.9],"nice":false,"zero":false},
          "axis":{"orient":"left","offset":-72.7,"zindex":1,"values":[-300,-250,-200,-150,-100,-50,0,50,100,150,200,250,300,350],"labelExpr":"''+datum.value","title":"Response Units (RU)","labelFont":"Liberation Serif","titleFont":"Liberation Serif","titleFontWeight":"normal","labelColor":"#000","titleColor":"#000","domainColor":"#000","tickColor":"#000","grid":false,"labelFontSize":11.5,"titleFontSize":11,"titlePadding":12}},
     "color":{"field":"series","type":"nominal","scale":{"domain":["2 uM","1 uM","0.5 uM"],"range":["#22ee22","#e32b2b","#1a1acc"]},"legend":null}
    }},
   {"data":{"name":"CSeg"},"mark":{"type":"rule","color":"#111","strokeWidth":1},
    "encoding":{"x":{"field":"x1","type":"quantitative","axis":null},"x2":{"field":"x2"},"y":{"field":"y1","type":"quantitative","axis":null},"y2":{"field":"y2"}}},
   {"data":{"name":"CArr"},"mark":{"type":"rule","color":"#000","strokeWidth":1},
    "encoding":{"x":{"field":"t","type":"quantitative","axis":null},"y":{"field":"lo","type":"quantitative","axis":null},"y2":{"field":"hi"}}},
   {"data":{"name":"CArr"},"mark":{"type":"point","shape":"triangle-up","filled":true,"size":22,"color":"#000","opacity":1,"yOffset":2.3},
    "encoding":{"x":{"field":"t","type":"quantitative","axis":null},"y":{"field":"hi","type":"quantitative","axis":null}}},
   {"data":{"name":"CArr"},"mark":{"type":"point","shape":"triangle-down","filled":true,"size":22,"color":"#000","opacity":1,"yOffset":-2.3},
    "encoding":{"x":{"field":"t","type":"quantitative","axis":null},"y":{"field":"lo","type":"quantitative","axis":null}}},
   {"data":{"name":"CTxt"},"mark":{"type":"text","font":"Liberation Serif","fontSize":11.5,"align":"left","baseline":"middle"},
    "encoding":{"x":{"field":"t","type":"quantitative","axis":null},"y":{"field":"v","type":"quantitative","axis":null},"text":{"field":"label"}}},
   {"data":{"values":[{}]},"mark":{"type":"text","font":"Liberation Serif","fontSize":21,"fontWeight":"bold","align":"center","baseline":"middle"},
    "encoding":{"x":{"datum":-443,"type":"quantitative","axis":null},"y":{"datum":386,"type":"quantitative","axis":null},"text":{"value":"C"}}}
  ],
  "resolve":{"axis":{"x":"independent","y":"independent"}}
 },
 {
  "layer":[
   {"data":{"values":[{}]},"mark":{"type":"rule","color":"#222","strokeWidth":1},
    "encoding":{
     "x":{"datum":-86,"type":"quantitative","axis":{"orient":"bottom","offset":-42.3,"zindex":1,"values":[-100,100,300,500,700,900,1100],"labels":false,"domain":false,"grid":false,"tickColor":"#000","title":null,"tickSize":3}},
     "x2":{"datum":1145},
     "y":{"datum":2,"type":"quantitative","axis":{"orient":"left","offset":-475,"zindex":1,"values":[-325,-275,-225,-175,-125,-75,-25,25,75],"labels":false,"domain":false,"grid":false,"tickColor":"#000","title":null,"tickSize":3}}
    }},
   {"data":{"name":"D"},"mark":{"type":"line","strokeWidth":1.4,"clip":false},
    "encoding":{
     "x":{"field":"t","type":"quantitative","scale":{"domain":[-200,1100],"range":[475,775.8],"nice":false,"zero":false},
          "axis":{"orient":"bottom","offset":-42.3,"zindex":1,"values":[-200,0,200,400,600,800,1000],"labelExpr":"''+datum.value","title":"Time (S)","labelFont":"Liberation Serif","titleFont":"Liberation Serif","titleFontWeight":"normal","labelColor":"#000","titleColor":"#000","domainColor":"#000","tickColor":"#000","grid":false,"labelFontSize":10.5,"titleFontSize":10.5,"titlePadding":6}},
     "y":{"field":"v","type":"quantitative","scale":{"domain":[-350,75],"range":[590.7,367.5],"nice":false,"zero":false},
          "axis":{"orient":"left","offset":-475,"zindex":1,"values":[-350,-300,-250,-200,-150,-100,-50,0,50],"labelExpr":"''+datum.value","title":"Response Units (RU)","labelFont":"Liberation Serif","titleFont":"Liberation Serif","titleFontWeight":"normal","labelColor":"#000","titleColor":"#000","domainColor":"#000","tickColor":"#000","grid":false,"labelFontSize":11.5,"titleFontSize":10.5,"titlePadding":9.5}},
     "color":{"field":"series","type":"nominal","scale":{"domain":["black","red","green","cyan","blue"],"range":["#111111","#e82626","#33cc33","#33e8ee","#1515d0"]},"legend":null}
    }},
   {"data":{"name":"DSeg"},"mark":{"type":"rule","color":"#333","strokeWidth":1},
    "encoding":{"x":{"field":"x1","type":"quantitative","axis":null},"x2":{"field":"x2"},"y":{"field":"y1","type":"quantitative","axis":null},"y2":{"field":"y2"}}},
   {"data":{"name":"DArr"},"mark":{"type":"rule","color":"#000","strokeWidth":1},
    "encoding":{"x":{"field":"t","type":"quantitative","axis":null},"y":{"field":"lo","type":"quantitative","axis":null},"y2":{"field":"hi"}}},
   {"data":{"name":"DArr"},"mark":{"type":"point","shape":"triangle-up","filled":true,"size":18,"color":"#000","opacity":1,"yOffset":2},
    "encoding":{"x":{"field":"t","type":"quantitative","axis":null},"y":{"field":"hi","type":"quantitative","axis":null}}},
   {"data":{"name":"DArr"},"mark":{"type":"point","shape":"triangle-down","filled":true,"size":18,"color":"#000","opacity":1,"yOffset":-2},
    "encoding":{"x":{"field":"t","type":"quantitative","axis":null},"y":{"field":"lo","type":"quantitative","axis":null}}},
   {"data":{"name":"DTxt"},"mark":{"type":"text","font":"Liberation Serif","fontSize":11,"align":"left","baseline":"middle"},
    "encoding":{"x":{"field":"t","type":"quantitative","axis":null},"y":{"field":"v","type":"quantitative","axis":null},"text":{"field":"label"}}},
   {"data":{"values":[{}]},"mark":{"type":"text","font":"Liberation Serif","fontSize":21,"fontWeight":"bold","align":"center","baseline":"middle"},
    "encoding":{"x":{"datum":-415,"type":"quantitative","axis":null},"y":{"datum":137,"type":"quantitative","axis":null},"text":{"value":"D"}}}
  ],
  "resolve":{"axis":{"x":"independent","y":"independent"}}
 }
],
"resolve":{"scale":{"x":"independent","y":"independent","color":"independent"},"axis":{"x":"independent","y":"independent"},"legend":{"color":"independent"}}
}
